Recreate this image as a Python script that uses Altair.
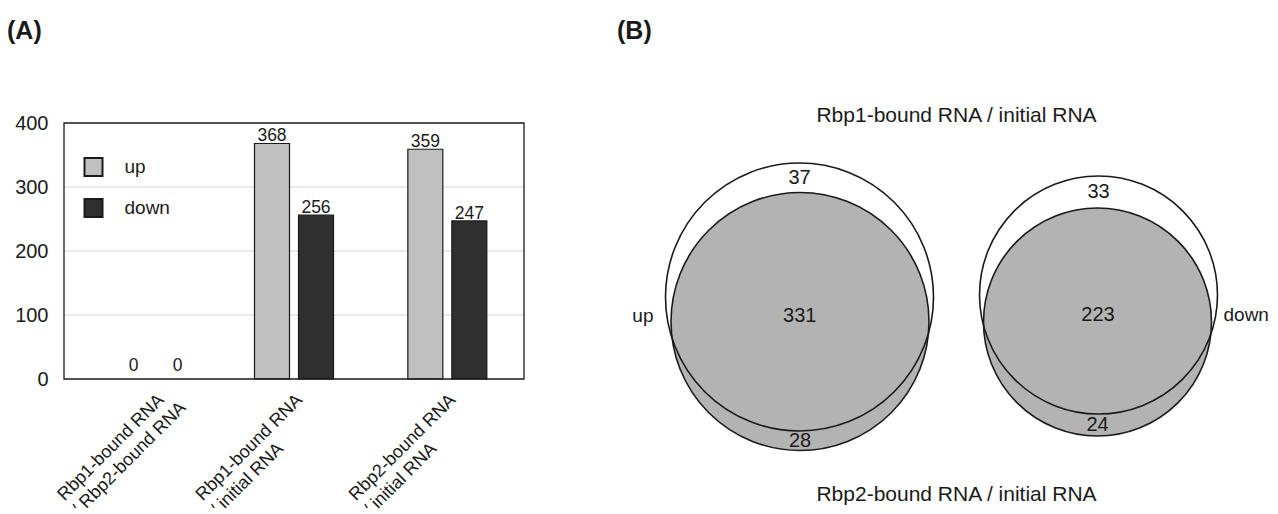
import math
import altair as alt
import pandas as pd

# ---------------- data ----------------
CATEGORIES = [
    "Rbp1-bound RNA\n/ Rbp2-bound RNA",
    "Rbp1-bound RNA\n/ initial RNA",
    "Rbp2-bound RNA\n/ initial RNA",
]
SERIES = ["up", "down"]
UP_COUNTS = [0, 368, 359]
DOWN_COUNTS = [0, 256, 247]
Y_TICKS = [0, 100, 200, 300, 400]
GRID_TICKS = [100, 200, 300]

VENN_GROUPS = ["up", "down"]
VENN_ONLY_RBP1 = [37, 33]
VENN_BOTH = [331, 223]
VENN_ONLY_RBP2 = [28, 24]
VENN_TOP_TITLE = "Rbp1-bound RNA / initial RNA"
VENN_BOTTOM_TITLE = "Rbp2-bound RNA / initial RNA"
PANEL_TAGS = ["(A)", "(B)"]

# ---------------- layout / style ----------------
W, H = 1262, 500
FONT = "Liberation Sans"
INK = "#1a1a1a"
UP_FILL, DOWN_FILL = "#c0c0c0", "#2f2f2f"
VENN_GRAY = "#b3b3b3"
PLOT_X = [56, 516]
PLOT_Y = [371, 115]
CAT_SHIFT = [15, 0, 0]          # Excel draws the first group's labels slightly right
# circle geometry (centre x, centre y, radius) in canvas pixels
CIRCLES = {
    ("up", "rbp1"): (791.5, 289.0, 134.0),
    ("up", "rbp2"): (792.0, 313.5, 129.0),
    ("down", "rbp1"): (1090.5, 287.0, 119.0),
    ("down", "rbp2"): (1089.5, 314.0, 114.0),
}
TITLE_POS = [(948.5, 108), (948.5, 487)]
TAG_POS = [(-1, 23), (609, 23)]

# ---------------- scales ----------------
def xb():
    return alt.Scale(type="band", domain=CATEGORIES, range=PLOT_X, paddingInner=0, paddingOuter=0)

def xo():
    return alt.Scale(type="band", domain=SERIES, paddingInner=0.2045, paddingOuter=0.8447)

def yb():
    return alt.Scale(domain=[0, Y_TICKS[-1]], range=PLOT_Y)

def xq():
    return alt.Scale(domain=[0, len(CATEGORIES)], range=PLOT_X)

def xv():
    return alt.Scale(domain=[0, W], range=[0, W])

def yv():
    return alt.Scale(domain=[0, H], range=[0, H])

# ---------------- panel A: bars ----------------
rows = []
for i, c in enumerate(CATEGORIES):
    rows.append({"category": c, "idx": i, "series": "up", "value": UP_COUNTS[i]})
    rows.append({"category": c, "idx": i, "series": "down", "value": DOWN_COUNTS[i]})
bar_df = pd.DataFrame(rows)

grid = alt.Chart(pd.DataFrame({"tick": GRID_TICKS, "start": 0, "end": len(CATEGORIES)})).mark_rule(
    color="#d6d6d6", strokeWidth=1
).encode(
    x=alt.X("start:Q", scale=xq(), axis=None),
    x2="end:Q",
    y=alt.Y("tick:Q", scale=yb(), axis=None),
)

bars = alt.Chart(bar_df).transform_filter(alt.datum.value > 0).mark_bar(stroke=INK, strokeWidth=1.2).encode(
    x=alt.X("category:N", scale=xb(), axis=None),
    xOffset=alt.XOffset("series:N", scale=xo()),
    y=alt.Y(
        "value:Q",
        scale=yb(),
        axis=alt.Axis(
            values=Y_TICKS, orient="left", offset=-PLOT_X[0], domain=False, ticks=False,
            tickSize=0, grid=False, labelPadding=16, labelFontSize=20, labelFont=FONT,
            labelColor=INK, title=None,
        ),
    ),
    color=alt.Color(
        "series:N",
        scale=alt.Scale(domain=SERIES, range=[UP_FILL, DOWN_FILL]),
        legend=alt.Legend(
            orient="none", legendX=75.5, legendY=149, title=None, symbolType="square",
            symbolSize=324, symbolStrokeColor=INK, symbolStrokeWidth=2, labelFontSize=19,
            labelFont=FONT, labelColor=INK, labelOffset=21, rowPadding=15, padding=0,
        ),
    ),
)

frame = alt.Chart(pd.DataFrame({"start": [0], "end": [len(CATEGORIES)], "lo": [0], "hi": [Y_TICKS[-1]]})).mark_rect(
    fill="transparent", stroke=INK, strokeWidth=1.3
).encode(
    x=alt.X("start:Q", scale=xq(), axis=None),
    x2="end:Q",
    y=alt.Y("lo:Q", scale=yb(), axis=None),
    y2="hi:Q",
)

value_layers = []
for i in range(len(CATEGORIES)):
    value_layers.append(
        alt.Chart(bar_df).transform_filter(alt.FieldEqualPredicate(field="idx", equal=i)).mark_text(
            baseline="alphabetic", dy=-2 if CAT_SHIFT[i] == 0 else -8, dx=CAT_SHIFT[i],
            fontSize=17.5, font=FONT, color=INK,
        ).encode(
            x=alt.X("category:N", scale=xb(), axis=None),
            xOffset=alt.XOffset("series:N", scale=xo()),
            y=alt.Y("value:Q", scale=yb(), axis=None),
            text=alt.Text("value:Q", format="d"),
        )
    )

# rotated category labels (left-aligned lines, like Excel)
FS_X = 18
W1 = 7.892 * FS_X  # width of first line ("Rbp1-bound RNA")
label_df = pd.DataFrame({"category": CATEGORIES, "idx": list(range(len(CATEGORIES))), "zero": 0})
xlabel_layers = []
for i in range(len(CATEGORIES)):
    sx, sy = 5.7 + CAT_SHIFT[i], 18.5
    u = 0.7071 * (sx - sy)
    v = 0.7071 * (sx + sy) - 9
    xlabel_layers.append(
        alt.Chart(label_df).transform_filter(alt.FieldEqualPredicate(field="idx", equal=i)).mark_text(
            angle=315, align="left", baseline="top", lineBreak="\n", lineHeight=21,
            fontSize=FS_X, font=FONT, color=INK, dx=u - W1, dy=v,
        ).encode(
            x=alt.X("category:N", scale=xb(), axis=None),
            y=alt.Y("zero:Q", scale=yb(), axis=None),
            text="category:N",
        )
    )

# ---------------- panel B: Venn ----------------
circ_rows = []
for g in VENN_GROUPS:
    for s in ["rbp1", "rbp2"]:
        cx, cy, r = CIRCLES[(g, s)]
        # Vega symbol size for a circle is the area of its bounding square
        circ_rows.append({"group": g, "set": s, "cx": cx, "cy": cy, "area": (2 * r) ** 2})
circ_df = pd.DataFrame(circ_rows)
AMAX = float(circ_df["area"].max())

def circ_enc():
    return dict(
        x=alt.X("cx:Q", scale=xv(), axis=None),
        y=alt.Y("cy:Q", scale=yv(), axis=None),
        size=alt.Size("area:Q", scale=alt.Scale(domain=[0, AMAX], range=[0, AMAX]), legend=None),
    )

c_fill1 = alt.Chart(circ_df).transform_filter(alt.FieldEqualPredicate(field="set", equal="rbp1")).mark_point(
    shape="circle", filled=True, fill="#ffffff", strokeWidth=0, opacity=1
).encode(**circ_enc())
c_fill2 = alt.Chart(circ_df).transform_filter(alt.FieldEqualPredicate(field="set", equal="rbp2")).mark_point(
    shape="circle", filled=True, fill=VENN_GRAY, stroke=INK, strokeWidth=1.6, opacity=1
).encode(**circ_enc())
c_line1 = alt.Chart(circ_df).transform_filter(alt.FieldEqualPredicate(field="set", equal="rbp1")).mark_point(
    shape="circle", filled=False, stroke=INK, strokeWidth=1.6, opacity=1
).encode(**circ_enc())

vt_rows = []
for k, g in enumerate(VENN_GROUPS):
    ax, ay, ar = CIRCLES[(g, "rbp1")]
    bx, by, br = CIRCLES[(g, "rbp2")]
    top_a, top_b = ay - ar, by - br
    bot_a, bot_b = ay + ar, by + br
    mid_y = (top_b + bot_a) / 2 + 4
    vt_rows.append({"label": str(VENN_ONLY_RBP1[k]), "x": ax, "y": (top_a + top_b) / 2, "align": "center"})
    vt_rows.append({"label": str(VENN_BOTH[k]), "x": (ax + bx) / 2, "y": mid_y, "align": "center"})
    vt_rows.append({"label": str(VENN_ONLY_RBP2[k]), "x": bx, "y": (bot_a + bot_b) / 2, "align": "center"})
    if k == 0:
        vt_rows.append({"label": g, "x": min(ax - ar, bx - br) - 12, "y": mid_y, "align": "right"})
    else:
        vt_rows.append({"label": g, "x": max(ax + ar, bx + br) + 6, "y": mid_y, "align": "left"})
vt_df = pd.DataFrame(vt_rows)

venn_text_layers = []
for al, fs in [("center", 20), ("left", 19), ("right", 19)]:
    venn_text_layers.append(
        alt.Chart(vt_df).transform_filter(alt.FieldEqualPredicate(field="align", equal=al)).mark_text(
            align=al, baseline="middle", fontSize=fs, font=FONT, color=INK
        ).encode(
            x=alt.X("x:Q", scale=xv(), axis=None),
            y=alt.Y("y:Q", scale=yv(), axis=None),
            text="label:N",
        )
    )

title_df = pd.DataFrame({
    "label": [VENN_TOP_TITLE, VENN_BOTTOM_TITLE],
    "x": [p[0] for p in TITLE_POS],
    "y": [p[1] for p in TITLE_POS],
})
venn_titles = alt.Chart(title_df).mark_text(
    align="center", baseline="middle", fontSize=21, font=FONT, color=INK
).encode(
    x=alt.X("x:Q", scale=xv(), axis=None),
    y=alt.Y("y:Q", scale=yv(), axis=None),
    text="label:N",
)

tag_df = pd.DataFrame({
    "label": PANEL_TAGS,
    "x": [p[0] for p in TAG_POS],
    "y": [p[1] for p in TAG_POS],
})
tags = alt.Chart(tag_df).mark_text(
    align="left", baseline="middle", fontSize=25, font=FONT, fontWeight="bold", color=INK
).encode(
    x=alt.X("x:Q", scale=xv(), axis=None),
    y=alt.Y("y:Q", scale=yv(), axis=None),
    text="label:N",
)

layers = [grid, bars, frame] + value_layers + xlabel_layers + [c_fill1, c_fill2, c_line1] + venn_text_layers + [venn_titles, tags]

chart = alt.layer(*layers).resolve_scale(
    x="independent", y="independent", xOffset="independent"
).properties(
    width=W, height=H, padding=0, autosize=alt.AutoSizeParams(type="none")
).configure_view(strokeWidth=0)

chart.save("out.html", embed_options={"renderer": "svg", "actions": False})
